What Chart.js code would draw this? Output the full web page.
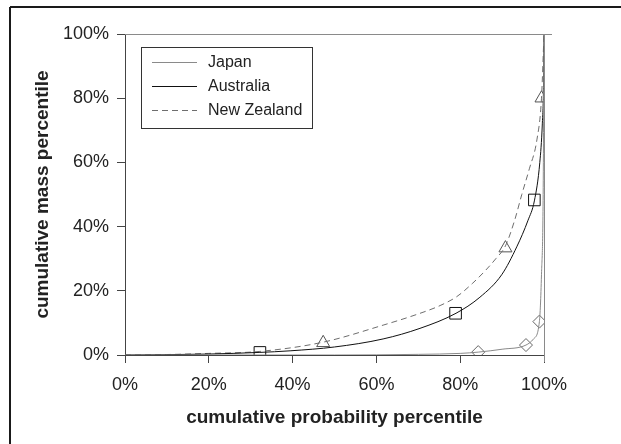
<!DOCTYPE html>
<html>
<head>
<meta charset="utf-8">
<script src="https://cdn.jsdelivr.net/npm/chart.js@4/dist/chart.umd.min.js"></script>
<style>
  html, body { margin: 0; padding: 0; background: #fff; }
  #wrap { width: 621px; height: 444px; position: relative; }
</style>
</head>
<body>
<div id="wrap"><canvas id="c" width="621" height="444"></canvas></div>
<script>
// ---- data (percent values) ----
const seriesNames = ['Japan', 'Australia', 'New Zealand'];

const japanX = [0, 50, 70, 80, 84.3, 90, 95.7, 97.5, 98.9, 99.4, 99.8, 100];
const japanY = [0, 0, 0.2, 0.5, 0.9, 1.8, 3.1, 5, 10.4, 25, 50, 100];

const australiaX = [0, 10, 20, 32, 39.4, 50, 61.6, 70.4, 79, 84.7, 89.9, 93.5, 96.2, 97.7, 99.0, 99.6, 99.9, 100];
const australiaY = [0, 0.1, 0.3, 0.8, 1.3, 2.5, 5, 8.3, 13, 18, 25, 33.7, 42, 48, 60, 72, 85, 100];

const nzX = [0, 10, 20, 32, 47.3, 61.6, 70, 75.2, 79.2, 83, 86, 88.5, 90.8, 93, 94.7, 96.5, 98.3, 99.4, 100];
const nzY = [0, 0.15, 0.5, 1.1, 4, 9.3, 12.8, 15.4, 18.2, 22.4, 26.3, 30, 34, 42, 50, 58, 67, 80, 100];

// marker points
const japanMarkX = [84.3, 95.7, 98.9];
const japanMarkY = [0.9, 3.1, 10.4];
const australiaMarkX = [32.2, 78.9, 97.7];
const australiaMarkY = [0.8, 13, 48.3];
const nzMarkX = [47.3, 90.8, 99.4];
const nzMarkY = [3.8, 33.3, 80];

const xTicks = [0, 20, 40, 60, 80, 100];
const yTicks = [0, 20, 40, 60, 80, 100];

function pts(xs, ys) { return xs.map((x, i) => ({ x: x, y: ys[i] })); }

const FONT = '"Liberation Sans", Arial, sans-serif';

const lineDefaults = { showLine: true, pointRadius: 0, fill: false, cubicInterpolationMode: 'monotone', borderWidth: 1 };

const datasets = [
  Object.assign({ label: seriesNames[0], data: pts(japanX, japanY), borderColor: '#8a8a8a' }, lineDefaults),
  Object.assign({ label: seriesNames[1], data: pts(australiaX, australiaY), borderColor: '#111111' }, lineDefaults),
  Object.assign({ label: seriesNames[2], data: pts(nzX, nzY), borderColor: '#6e6e6e', borderDash: [6, 4] }, lineDefaults),
  { label: 'm0', data: pts(japanMarkX, japanMarkY), showLine: false, pointStyle: 'rectRot', pointRadius: 6.5,
    pointBorderColor: '#666', pointBackgroundColor: '#fff', pointBorderWidth: 1 },
  { label: 'm1', data: pts(australiaMarkX, australiaMarkY), showLine: false, pointStyle: 'rect', pointRadius: 8.2,
    pointBorderColor: '#111', pointBackgroundColor: 'rgba(255,255,255,0)', pointBorderWidth: 1 },
  { label: 'm2', data: pts(nzMarkX, nzMarkY), showLine: false, pointStyle: 'triangle', pointRadius: 7.5,
    pointBorderColor: '#555', pointBackgroundColor: 'rgba(255,255,255,0)', pointBorderWidth: 1 }
];

const decor = {
  id: 'decor',
  beforeDraw(chart) {
    const ctx = chart.ctx;
    ctx.save();
    ctx.fillStyle = '#fff';
    ctx.fillRect(0, 0, chart.width, chart.height);
    ctx.restore();
  },
  afterDraw(chart) {
    const ctx = chart.ctx;
    const a = chart.chartArea;
    ctx.save();
    // outer frame (top and left edges visible)
    ctx.strokeStyle = '#1a1a1a';
    ctx.lineWidth = 2;
    ctx.beginPath();
    ctx.moveTo(10, 7); ctx.lineTo(chart.width, 7);
    ctx.moveTo(10, 7); ctx.lineTo(10, chart.height);
    ctx.stroke();
    // plot frame top and right
    ctx.strokeStyle = '#8a8a8a';
    ctx.lineWidth = 1;
    ctx.beginPath();
    ctx.moveTo(a.left, Math.round(a.top) + 0.5); ctx.lineTo(a.right + 8, Math.round(a.top) + 0.5);
    ctx.moveTo(Math.round(a.right) + 0.5, a.top); ctx.lineTo(Math.round(a.right) + 0.5, a.bottom + 7);
    ctx.stroke();
    // legend
    const lx = 141, ly = 47, lw = 171, lh = 81;
    ctx.fillStyle = '#fff';
    ctx.fillRect(lx, ly, lw, lh);
    ctx.strokeStyle = '#333';
    ctx.lineWidth = 1;
    ctx.strokeRect(lx + 0.5, ly + 0.5, lw, lh);
    const rows = [62, 86, 110];
    ctx.font = '16px ' + FONT;
    ctx.textBaseline = 'middle';
    ctx.textAlign = 'left';
    for (let i = 0; i < 3; i++) {
      const ds = chart.data.datasets[i];
      ctx.strokeStyle = ds.borderColor;
      ctx.setLineDash(ds.borderDash || []);
      ctx.beginPath();
      ctx.moveTo(152, rows[i] + 0.5); ctx.lineTo(197, rows[i] + 0.5);
      ctx.stroke();
      ctx.setLineDash([]);
      ctx.fillStyle = '#222';
      ctx.fillText(ds.label, 208, rows[i] + 1);
    }
    ctx.restore();
  }
};

new Chart(document.getElementById('c'), {
  type: 'scatter',
  data: { datasets: datasets },
  options: {
    responsive: false,
    animation: false,
    devicePixelRatio: 1,
    layout: { padding: { left: 0, top: 34, right: 77, bottom: 0 } },
    plugins: { legend: { display: false }, tooltip: { enabled: false } },
    scales: {
      x: {
        type: 'linear', min: 0, max: 100,
        afterBuildTicks(s) { s.ticks = xTicks.map(v => ({ value: v })); },
        afterFit(s) { s.height = 89; },
        ticks: { padding: 11, color: '#222', font: { family: FONT, size: 18 }, callback: v => v + '%', maxRotation: 0 },
        grid: { drawOnChartArea: false, drawTicks: true, tickLength: 8, color: '#444' },
        border: { display: true, color: '#444', width: 1 },
        title: { display: true, text: 'cumulative probability percentile', color: '#222',
                 font: { family: FONT, size: 19, weight: 'bold' }, padding: { top: 0, bottom: 15 } }
      },
      y: {
        type: 'linear', min: 0, max: 100,
        afterBuildTicks(s) { s.ticks = yTicks.map(v => ({ value: v })); },
        afterFit(s) { s.width = 125; },
        ticks: { padding: 8, color: '#222', font: { family: FONT, size: 18 }, callback: v => v + '%' },
        grid: { drawOnChartArea: false, drawTicks: true, tickLength: 8, color: '#444' },
        border: { display: true, color: '#444', width: 1 },
        title: { display: true, text: 'cumulative mass percentile', color: '#222',
                 font: { family: FONT, size: 19, weight: 'bold' }, padding: { top: 31, bottom: 0 } }
      }
    }
  },
  plugins: [decor]
});
</script>
</body>
</html>
